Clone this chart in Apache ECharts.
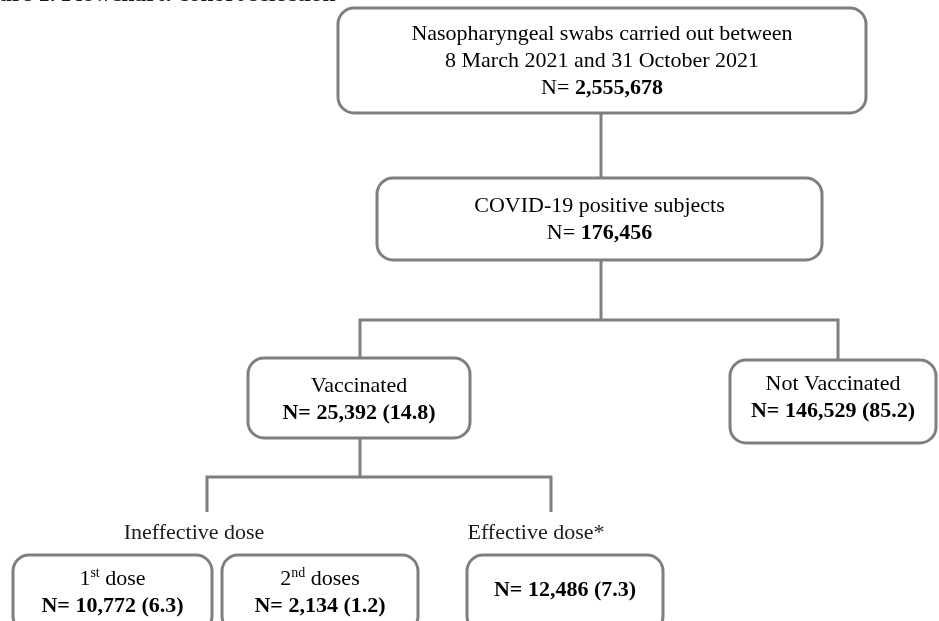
<!DOCTYPE html>
<html>
<head>
<meta charset="utf-8">
<script src="https://cdn.jsdelivr.net/npm/echarts@6/dist/echarts.min.js"></script>
<style>
  html, body { margin: 0; padding: 0; background: #fff; }
  #chart { width: 939px; height: 621px; }
</style>
</head>
<body>
<div id="chart"></div>
<script>
// Figure 1 - cohort selection flowchart

const figureTitle = 'Figure 1. Flowchart: cohort selection';

// stage texts; "^xx" marks a superscript
const stageTitles = [
  'Nasopharyngeal swabs carried out between\n8 March 2021 and 31 October 2021',
  'COVID-19 positive subjects',
  'Vaccinated',
  'Not Vaccinated',
  '1^st dose',
  '2^nd doses',
  ''
];
const stageCounts = [2555678, 176456, 25392, 146529, 10772, 2134, 12486];
const stagePercents = [null, null, 14.8, 85.2, 6.3, 1.2, 7.3];
const branchLabels = ['Ineffective dose', 'Effective dose*'];

// layout on hidden axes: [x0, y0, x1, y1, textCenterY]
const boxLayout = [
  [338, 8, 866, 113, 61],
  [377, 178, 822, 260, 220],
  [248, 358, 470, 438, 400],
  [730, 360, 936, 443, 398],
  [13, 555, 212, 632, 593],
  [222, 555, 418, 632, 593],
  [467, 555, 663, 632, 590]
];
const connectorLayout = [
  [[601, 113], [601, 178]],
  [[601, 260], [601, 320]],
  [[360, 358], [360, 320], [838, 320], [838, 360]],
  [[360, 438], [360, 477]],
  [[207, 512], [207, 477], [551, 477], [551, 512]]
];
const branchLayout = [[194, 533], [536, 533]];

const LINE = '#7f7f7f';
const INK = '#1c1c1c';
const FONT = '"Liberation Serif", "Times New Roman", serif';
const FS = 22;

const rich = {
  r: { fontFamily: FONT, fontSize: FS, color: INK, lineHeight: 27 },
  b: { fontFamily: FONT, fontSize: FS, color: INK, lineHeight: 27, fontWeight: 'bold' },
  sup: { fontFamily: FONT, fontSize: 14, color: INK, verticalAlign: 'top' }
};

function fmt(n) { return n.toLocaleString('en-US'); }

function titleLine(line) {
  const parts = line.split(/\^(\w+)/);
  return parts.map((p, k) => (k % 2 ? '{sup|' + p + '}' : (p ? '{r|' + p + '}' : ''))).join('');
}

function stageText(i) {
  const lines = stageTitles[i] ? stageTitles[i].split('\n').map(titleLine) : [];
  if (stagePercents[i] == null) {
    lines.push('{r|N= }{b|' + fmt(stageCounts[i]) + '}');
  } else {
    lines.push('{b|N= ' + fmt(stageCounts[i]) + ' (' + stagePercents[i] + ')}');
  }
  return lines.join('\n');
}

const chart = echarts.init(document.getElementById('chart'));

chart.setOption({
  animation: false,
  backgroundColor: '#fff',
  title: {
    text: figureTitle,
    left: -34,
    top: -17,
    padding: 0,
    textStyle: { fontFamily: FONT, fontSize: 23.5, fontWeight: 'bold', color: INK }
  },
  grid: { left: 0, right: 0, top: 0, bottom: 0 },
  xAxis: { type: 'value', min: 0, max: 939, show: false },
  yAxis: { type: 'value', min: 0, max: 621, inverse: true, show: false },
  series: [
    {
      type: 'custom',
      clip: false,
      data: connectorLayout.map((_, i) => [i]),
      renderItem(params, api) {
        const pts = connectorLayout[api.value(0)].map(p => api.coord(p));
        return {
          type: 'polyline',
          shape: { points: pts },
          style: { stroke: LINE, lineWidth: 3, fill: null }
        };
      }
    },
    {
      type: 'custom',
      clip: false,
      data: stageCounts.map((_, i) => [i]),
      renderItem(params, api) {
        const i = api.value(0);
        const b = boxLayout[i];
        const p0 = api.coord([b[0], b[1]]);
        const p1 = api.coord([b[2], b[3]]);
        const tc = api.coord([(b[0] + b[2]) / 2, b[4]]);
        return {
          type: 'group',
          children: [
            {
              type: 'rect',
              shape: { x: p0[0], y: p0[1], width: p1[0] - p0[0], height: p1[1] - p0[1], r: 16 },
              style: { fill: '#fff', stroke: LINE, lineWidth: 3 }
            },
            {
              type: 'text',
              x: tc[0],
              y: tc[1],
              style: { text: stageText(i), rich: rich, align: 'center', verticalAlign: 'middle' }
            }
          ]
        };
      }
    },
    {
      type: 'custom',
      clip: false,
      data: branchLabels.map((_, i) => [i]),
      renderItem(params, api) {
        const i = api.value(0);
        const p = api.coord(branchLayout[i]);
        return {
          type: 'text',
          x: p[0],
          y: p[1],
          style: {
            text: branchLabels[i],
            fontFamily: FONT, fontSize: FS, fill: INK,
            align: 'center', verticalAlign: 'middle'
          }
        };
      }
    }
  ]
});

window.addEventListener('resize', () => chart.resize());
</script>
</body>
</html>
